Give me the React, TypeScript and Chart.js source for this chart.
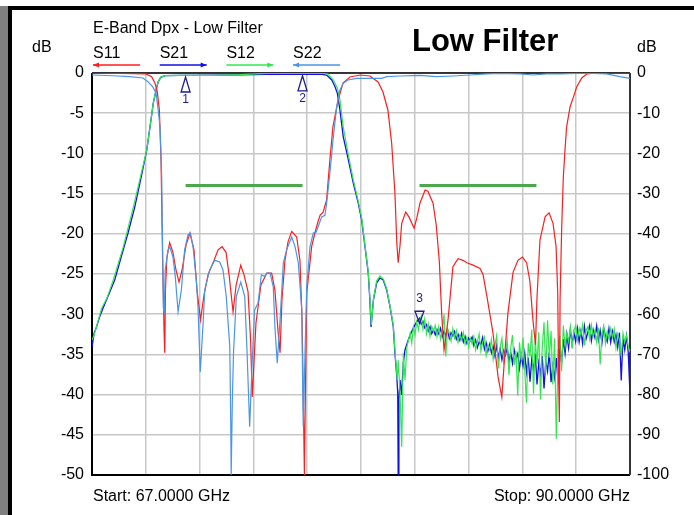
import React, { useEffect, useRef } from 'react';
import { Chart, registerables } from 'chart.js';

Chart.register(...registerables);

// ---------- Data ----------
const chartTitle = 'Low Filter';
const chartSubtitle = 'E-Band Dpx - Low Filter';
const startLabel = 'Start: 67.0000 GHz';
const stopLabel = 'Stop: 90.0000 GHz';
const legendNames = ['S11', 'S21', 'S12', 'S22'];
const legendColors = ['#ff1c1c', '#1010e6', '#30e84e', '#4a95e6'];
const legendDirs = [-1, 1, 1, -1];

// x grid (GHz), 10 divisions
const xGrid = [67, 69.3, 71.6, 73.9, 76.2, 78.5, 80.8, 83.1, 85.4, 87.7, 90];

// S11 (left axis, dB) [GHz, dB]
const s11: [number, number][] = [
  [67.0, 0], [68.2, -0.06], [69.31, -0.12], [69.55, -0.46], [69.69, -1.24], [69.79, -2.33],
  [69.88, -4.6], [69.95, -10.8], [70.02, -23.3], [70.08, -32.0], [70.11, -34.8], [70.14, -27.0],
  [70.2, -23.0], [70.32, -21.1], [70.46, -22.3], [70.59, -24.5], [70.72, -26.0], [70.85, -24.5],
  [71.02, -21.4], [71.19, -19.9], [71.36, -22.0], [71.49, -27.0], [71.64, -30.7], [71.79, -27.6],
  [71.96, -25.1], [72.22, -23.3], [72.39, -22.0], [72.56, -21.6], [72.73, -22.3], [72.86, -25.1],
  [73.03, -29.7], [73.16, -26.4], [73.36, -23.9], [73.5, -25.1], [73.67, -27.2], [73.78, -33.2],
  [73.85, -40.3], [73.93, -35.7], [74.01, -31.1], [74.22, -26.4], [74.47, -24.9], [74.68, -24.9],
  [74.82, -27.0], [74.95, -32.0], [75.04, -34.8], [75.12, -28.2], [75.25, -23.3], [75.38, -21.0],
  [75.54, -19.7], [75.75, -20.4], [75.89, -23.3], [75.98, -30.7], [76.03, -39.8], [76.08, -50],
  [76.13, -38.2], [76.18, -27.4], [76.39, -21.6], [76.53, -19.9], [76.66, -18.5], [76.75, -17.7],
  [76.88, -17.3], [77.03, -15.8], [77.17, -10.8], [77.3, -6.7], [77.52, -3.4], [77.73, -1.24],
  [78.03, -0.5], [78.46, -0.25], [78.88, -0.37], [79.23, -1.12], [79.44, -2.36], [79.65, -4.6],
  [79.81, -8.7], [79.95, -14.9], [80.03, -21.1], [80.09, -23.6], [80.17, -21.4], [80.24, -18.7],
  [80.41, -17.3], [80.55, -17.9], [80.77, -19.3], [80.89, -18.0], [81.02, -16.2], [81.24, -14.55],
  [81.36, -14.7], [81.58, -16.2], [81.72, -19.0], [81.85, -23.5], [81.95, -30.0], [82.05, -34.45],
  [82.12, -33.0], [82.22, -30.7], [82.31, -27.9], [82.43, -24.1], [82.65, -23.1], [82.86, -23.3],
  [83.03, -23.6], [83.29, -23.9], [83.59, -24.3], [83.72, -25.1], [83.89, -27.9], [84.14, -32.3],
  [84.36, -37.8], [84.52, -40.3], [84.66, -34.5], [84.78, -29.9], [85.0, -24.8], [85.21, -23.3],
  [85.4, -22.9], [85.58, -23.6], [85.72, -25.9], [85.85, -30.7], [85.96, -33.8], [86.02, -28.2],
  [86.15, -20.8], [86.37, -17.9], [86.54, -17.4], [86.71, -18.7], [86.84, -21.6], [86.91, -27.4],
  [86.95, -38.2], [86.98, -43.4], [87.01, -28.2], [87.08, -19.2], [87.15, -12.9], [87.22, -9.6],
  [87.29, -6.7], [87.44, -4.2], [87.58, -3.0], [87.72, -1.74], [87.94, -0.62], [88.15, -0.12],
  [88.59, 0], [90.0, 0],
];

// S22 (left axis, dB)
const s22: [number, number][] = [
  [67.0, -0.25], [67.9, -0.34], [68.62, -0.46], [69.18, -0.62], [69.39, -1.08], [69.59, -1.7],
  [69.74, -2.49], [69.83, -4.6], [69.91, -6.72], [69.98, -12.94], [70.05, -29.2], [70.09, -29.85],
  [70.13, -24.5], [70.25, -22.0], [70.32, -21.6], [70.46, -22.85], [70.56, -25.3], [70.68, -29.7],
  [70.82, -27.0], [70.96, -22.0], [71.1, -20.15], [71.2, -19.9], [71.32, -21.6], [71.46, -25.75],
  [71.53, -29.07], [71.63, -37.15], [71.75, -31.1], [71.82, -27.0], [72.03, -24.5], [72.25, -23.3],
  [72.46, -23.5], [72.6, -24.5], [72.74, -27.8], [72.89, -34.0], [72.93, -43.2], [72.95, -50],
  [73.0, -40.7], [73.05, -34.8], [73.17, -27.8], [73.36, -26.0], [73.53, -27.8], [73.63, -34.8],
  [73.74, -44.0], [73.84, -36.5], [73.95, -29.5], [74.1, -28.6], [74.24, -25.1], [74.38, -25.3],
  [74.48, -24.9], [74.61, -24.9], [74.75, -26.6], [74.82, -31.6], [74.92, -36.1], [75.04, -30.7],
  [75.18, -23.6], [75.32, -22.0], [75.54, -20.4], [75.68, -21.6], [75.82, -23.6], [75.97, -29.5],
  [76.01, -39.8], [76.03, -44.0], [76.11, -34.45], [76.18, -26.6], [76.32, -21.6], [76.46, -19.9],
  [76.58, -19.8], [76.67, -19.1], [76.82, -17.9], [76.96, -17.7], [77.03, -16.2], [77.17, -12.4],
  [77.32, -7.9], [77.46, -4.2], [77.6, -2.1], [77.74, -1.28], [77.94, -0.87], [78.32, -0.66],
  [79.01, -0.66], [79.39, -0.66], [79.6, -0.46], [80.17, -0.37], [81.02, -0.29], [81.74, -0.46],
  [82.43, -0.37], [83.16, -0.25], [83.87, -0.12], [84.44, -0.04], [85.3, -0.12], [85.85, -0.25],
  [86.44, -0.12], [87.01, -0.12], [87.72, -0.04], [88.43, -0.04], [89.0, -0.12], [89.57, -0.46],
  [90.0, -0.66],
];

// S21 (right axis, dB) up to 81 GHz
const s21: [number, number][] = [
  [67.0, -68.2], [67.09, -64.7], [67.18, -63.4], [67.33, -60.6], [67.47, -58.5], [67.68, -55.6],
  [67.97, -51.5], [68.25, -45.7], [68.54, -39.8], [68.83, -33.3], [69.12, -25.4], [69.34, -19.2],
  [69.48, -13.4], [69.62, -7.5], [69.74, -4.2], [69.83, -2.2], [69.94, -1.07], [70.12, -0.67],
  [70.76, -0.6], [72.19, -0.55], [73.33, -0.45], [74.47, -0.35], [76.75, -0.25], [77.03, -0.5],
  [77.25, -1.74], [77.39, -3.4], [77.49, -5.05], [77.6, -9.2], [77.74, -15.8], [77.96, -21.6],
  [78.17, -27.4], [78.38, -32.3], [78.53, -36.6], [78.67, -43.2], [78.81, -49.75], [78.88, -56.5],
  [78.93, -63.2], [79.03, -56.5], [79.17, -52.2], [79.31, -51.0], [79.45, -51.5], [79.6, -54.0],
  [79.74, -58.1], [79.88, -63.1], [79.95, -69.65], [80.03, -75.5], [80.07, -79.6], [80.09, -100],
  [80.12, -81.3], [80.17, -76.4], [80.23, -80.1], [80.31, -72.1], [80.38, -68.9], [80.52, -66.4],
  [80.64, -64.7], [80.74, -63.4], [80.88, -61.9],
];

// S12 (right axis, dB) up to 81 GHz
const s12: [number, number][] = [
  [67.0, -66.4], [67.09, -65.2], [67.21, -62.7], [67.41, -58.5], [67.64, -56.0], [67.91, -51.5],
  [68.34, -43.2], [68.77, -33.3], [69.12, -24.6], [69.34, -19.2], [69.48, -13.4], [69.62, -7.5],
  [69.74, -4.2], [69.83, -2.2], [69.94, -1.07], [70.12, -0.67], [70.76, -0.6], [72.19, -0.6],
  [73.33, -0.42], [74.47, -0.07], [76.75, -0.02], [77.09, -0.25], [77.32, -1.74], [77.49, -3.7],
  [77.6, -6.7], [77.74, -13.4], [77.96, -20.4], [78.17, -26.6], [78.38, -31.8], [78.53, -36.1],
  [78.67, -42.8], [78.81, -49.5], [78.88, -56.0], [78.94, -62.7], [79.04, -56.0], [79.17, -51.7],
  [79.31, -50.5], [79.45, -51.2], [79.6, -53.7], [79.74, -58.0], [79.88, -62.7], [79.95, -68.9],
  [80.05, -76.4], [80.09, -71.4], [80.17, -79.6], [80.24, -93.0], [80.31, -69.65], [80.38, -76.4],
  [80.46, -68.2], [80.6, -64.7], [80.67, -67.2], [80.74, -63.2], [80.81, -65.2], [80.88, -61.9],
  [80.96, -63.9],
];

// Stop-band sweep readings from 81.0 GHz, 0.075 GHz per point
const noiseStart = 81.0;
const noiseStep = 0.075;
const s21Noise = [
  -61.0, -62.5, -61.8, -63.4, -62.6, -64.2, -63.1, -64.8, -63.9, -65.1,
  -63.8, -64.9, -63.5, -65.6, -64.2, -65.3, -63.9, -66.0, -64.6, -65.4,
  -64.3, -66.2, -65.0, -66.5, -64.8, -66.9, -65.5, -67.2, -65.9, -66.6,
  -65.7, -67.8, -66.4, -68.3, -66.9, -67.6, -65.8, -68.7, -67.1, -69.2,
  -67.5, -69.6, -68.0, -70.4, -67.8, -70.9, -68.6, -71.3, -69.0, -70.2,
  -68.4, -71.8, -69.5, -72.2, -68.9, -71.0, -69.8, -73.5, -70.2, -72.8,
  -69.6, -74.5, -70.8, -76.8, -71.2, -73.9, -69.8, -77.5, -72.1, -75.0,
  -70.4, -78.5, -71.6, -74.2, -69.5, -76.9, -72.8, -75.8, -70.9, -77.2,
  -68.6, -72.0, -66.2, -69.8, -65.0, -68.4, -63.8, -67.5, -64.6, -66.8,
  -63.5, -66.9, -64.2, -67.3, -63.0, -66.1, -64.5, -62.8, -66.6, -63.9,
  -65.8, -62.9, -66.4, -64.0, -67.2, -63.4, -65.5, -66.8, -63.6, -67.0,
  -64.3, -66.9, -65.1, -68.2, -64.6, -76.5, -66.0, -68.9, -65.4, -69.5, -80.0,
];
const s12Noise = [
  -62.0, -60.5, -63.8, -61.2, -64.9, -62.4, -65.5, -63.0, -64.2, -62.8,
  -65.6, -63.1, -66.2, -64.0, -60.0, -70.5, -63.5, -64.8, -66.7, -63.6,
  -65.9, -64.1, -67.0, -65.2, -66.4, -64.6, -67.5, -65.8, -68.2, -66.0,
  -67.4, -65.5, -68.9, -66.8, -64.9, -69.2, -67.0, -65.7, -70.3, -67.6,
  -68.8, -66.3, -71.2, -67.9, -65.4, -73.5, -68.2, -66.0, -71.8, -69.4,
  -66.6, -75.2, -68.4, -65.2, -72.6, -69.1, -80.3, -67.0, -71.5, -65.8,
  -73.9, -82.0, -67.2, -70.5, -63.8, -79.8, -66.3, -72.4, -64.5, -81.2,
  -68.0, -62.0, -74.6, -61.5, -70.8, -64.2, -77.5, -66.0, -91.0, -69.5,
  -65.3, -74.2, -62.8, -68.0, -64.9, -66.8, -63.2, -68.5, -64.1, -62.9,
  -66.4, -63.5, -65.2, -62.6, -67.8, -64.0, -63.1, -66.2, -62.7, -65.5,
  -64.0, -66.9, -63.3, -72.5, -64.8, -62.9, -67.3, -64.2, -66.0, -63.5,
  -65.8, -63.7, -68.4, -64.9, -66.3, -70.5, -64.7, -66.9, -65.2, -68.0, -69.5,
];

// Limit lines (right axis)
const limitStart = [71, 81];
const limitStop = [76, 86];
const limitDb = [-28, -28];

// Markers (on S21, right axis)
const markerFreq = [71, 76, 81];
const markerDb = [-0.6, -0.3, -61.5];
const markerLabels = ['1', '2', '3'];

// ---------- Helpers ----------
const FONT = '"Liberation Sans", Arial, Helvetica, sans-serif';
const pts = (arr: [number, number][]) => arr.map(([x, y]) => ({ x, y }));
const noisePts = (arr: number[]) => arr.map((y, i) => ({ x: +(noiseStart + i * noiseStep).toFixed(3), y }));

const decorPlugin = {
  id: 'decor',
  beforeDraw(chart: any) {
    const ctx = chart.ctx;
    ctx.save();
    ctx.fillStyle = '#ffffff';
    ctx.fillRect(0, 0, chart.width, chart.height);
    ctx.fillStyle = '#808080';
    ctx.fillRect(0, 6, 8, chart.height - 6);
    ctx.fillStyle = '#000000';
    ctx.fillRect(8, 6, 4, chart.height - 6);
    ctx.fillRect(8, 6, chart.width - 8, 4);
    ctx.restore();
  },
  beforeDatasetsDraw(chart: any) {
    const { ctx, chartArea: a } = chart;
    ctx.save();
    ctx.strokeStyle = '#000';
    ctx.lineWidth = 2;
    ctx.beginPath();
    ctx.moveTo(a.left, a.top);
    ctx.lineTo(a.left, a.bottom);
    ctx.lineTo(a.right, a.bottom);
    ctx.stroke();
    ctx.lineWidth = 1.5;
    ctx.beginPath();
    ctx.moveTo(a.left, a.top);
    ctx.lineTo(a.right, a.top);
    ctx.stroke();
    ctx.strokeStyle = '#333';
    ctx.lineWidth = 2;
    ctx.beginPath();
    ctx.moveTo(a.right, a.top);
    ctx.lineTo(a.right, a.bottom);
    ctx.stroke();
    ctx.restore();
  },
  afterDraw(chart: any) {
    const ctx = chart.ctx;
    ctx.save();
    ctx.fillStyle = '#000';
    ctx.textBaseline = 'alphabetic';
    ctx.textAlign = 'left';
    ctx.font = `16px ${FONT}`;
    ctx.fillText(chartSubtitle, 93, 33);
    ctx.fillText('dB', 32, 52);
    ctx.fillText('dB', 637, 52);
    ctx.fillText(startLabel, 93, 501);
    ctx.textAlign = 'right';
    ctx.fillText(stopLabel, 630, 501);
    ctx.textAlign = 'left';
    ctx.font = `bold 31px ${FONT}`;
    ctx.fillText(chartTitle, 412, 51);

    // legend
    legendNames.forEach((name, i) => {
      const x0 = 93 + i * 66.7;
      ctx.font = `16px ${FONT}`;
      ctx.fillStyle = '#000';
      ctx.fillText(name, x0, 58);
      const x1 = x0 + 47;
      const y = 65;
      ctx.strokeStyle = legendColors[i];
      ctx.fillStyle = legendColors[i];
      ctx.lineWidth = 1.3;
      ctx.beginPath();
      ctx.moveTo(x0, y);
      ctx.lineTo(x1, y);
      ctx.stroke();
      const tip = legendDirs[i] > 0 ? x1 : x0;
      const back = legendDirs[i] > 0 ? x1 - 6 : x0 + 6;
      ctx.beginPath();
      ctx.moveTo(tip, y);
      ctx.lineTo(back, y - 2.5);
      ctx.lineTo(back, y + 2.5);
      ctx.closePath();
      ctx.fill();
    });

    // markers
    const xs = chart.scales.x;
    const yr = chart.scales.yR;
    ctx.strokeStyle = '#1e1e8c';
    ctx.fillStyle = '#1e1e8c';
    ctx.lineWidth = 1.3;
    ctx.font = `12px ${FONT}`;
    ctx.textAlign = 'center';
    ctx.textBaseline = 'middle';
    markerFreq.forEach((f, i) => {
      const px = xs.getPixelForValue(f);
      const py = yr.getPixelForValue(markerDb[i]);
      if (py < chart.chartArea.top + 30) {
        const apex = py + 1.6;
        const base = apex + 15;
        ctx.beginPath();
        ctx.moveTo(px, apex);
        ctx.lineTo(px - 4.5, base);
        ctx.lineTo(px + 4.5, base);
        ctx.closePath();
        ctx.stroke();
        ctx.fillText(markerLabels[i], px, base + 8);
      } else {
        const apex = py + 3;
        const base = apex - 12;
        ctx.beginPath();
        ctx.moveTo(px, apex);
        ctx.lineTo(px - 4.5, base);
        ctx.lineTo(px + 4.5, base);
        ctx.closePath();
        ctx.stroke();
        ctx.fillText(markerLabels[i], px, base - 13);
      }
    });
    ctx.restore();
  },
};

export default function App() {
  const ref = useRef<HTMLCanvasElement | null>(null);

  useEffect(() => {
    if (!ref.current) return;
    const gridColor = '#c8c8c8';
    const tickFont = { family: FONT, size: 16 };
    const limitSets = limitStart.map((s, i) => ({
      label: `limit${i}`,
      data: [{ x: s, y: limitDb[i] }, { x: limitStop[i], y: limitDb[i] }],
      yAxisID: 'yR',
      borderColor: '#4ca84c',
      borderWidth: 3,
      pointRadius: 0,
      order: 6,
    }));
    const chart = new Chart(ref.current, {
      type: 'line',
      data: {
        datasets: [
          { label: 'S22', data: pts(s22), yAxisID: 'yL', borderColor: legendColors[3], borderWidth: 1.2, pointRadius: 0, order: 1 },
          { label: 'S11', data: pts(s11), yAxisID: 'yL', borderColor: legendColors[0], borderWidth: 1.2, pointRadius: 0, order: 2 },
          { label: 'S12', data: [...pts(s12), ...noisePts(s12Noise)], yAxisID: 'yR', borderColor: legendColors[2], borderWidth: 1.2, pointRadius: 0, order: 3 },
          { label: 'S21', data: [...pts(s21), ...noisePts(s21Noise)], yAxisID: 'yR', borderColor: legendColors[1], borderWidth: 1.3, pointRadius: 0, order: 4 },
          ...limitSets,
        ] as any,
      },
      options: {
        animation: false,
        responsive: false,
        devicePixelRatio: 1,
        events: [],
        layout: { padding: { top: 73, left: 0, right: 0, bottom: 0 } },
        plugins: { legend: { display: false }, tooltip: { enabled: false }, title: { display: false } },
        elements: { line: { tension: 0 } },
        scales: {
          x: {
            type: 'linear',
            min: 67,
            max: 90,
            afterBuildTicks: (s: any) => { s.ticks = xGrid.map((v) => ({ value: v })); },
            afterFit: (s: any) => { s.height = 40; },
            ticks: { display: false },
            grid: { color: gridColor, lineWidth: 1.5, drawTicks: false },
            border: { display: false },
          },
          yL: {
            type: 'linear',
            position: 'left',
            min: -50,
            max: 0,
            afterFit: (s: any) => { s.width = 92; },
            ticks: { stepSize: 5, padding: 8, color: '#000', font: tickFont },
            grid: { color: gridColor, lineWidth: 1.5, drawTicks: false },
            border: { display: false },
          },
          yR: {
            type: 'linear',
            position: 'right',
            min: -100,
            max: 0,
            afterFit: (s: any) => { s.width = 64; },
            ticks: { stepSize: 10, padding: 7, color: '#000', font: tickFont },
            grid: { display: false, drawTicks: false },
            border: { display: false },
          },
        },
      } as any,
      plugins: [decorPlugin],
    });
    return () => chart.destroy();
  }, []);

  return (
    <div style={{ position: 'fixed', left: 0, top: 0, width: 694, height: 515, background: '#fff' }}>
      <canvas ref={ref} width={694} height={515} style={{ display: 'block', width: 694, height: 515 }} />
    </div>
  );
}
